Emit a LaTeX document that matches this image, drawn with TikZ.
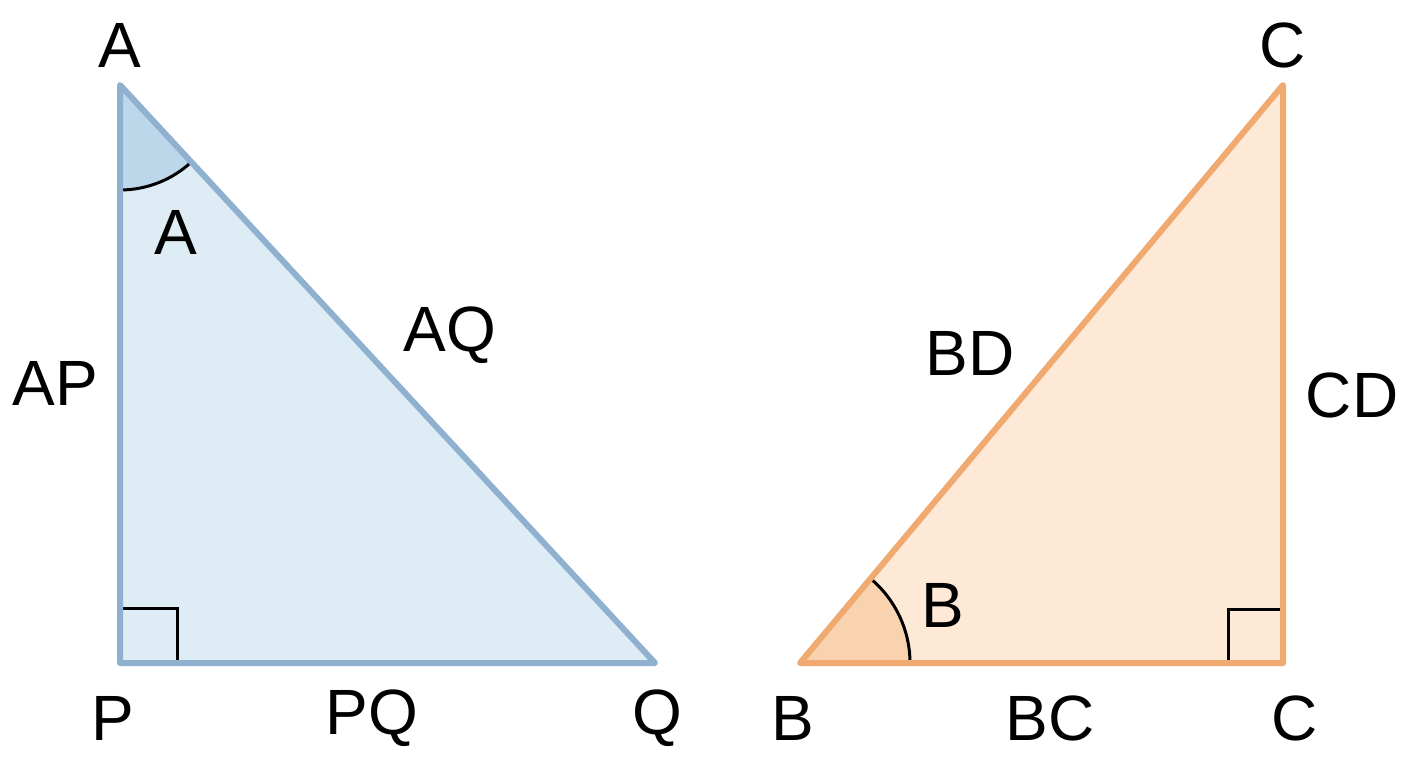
\documentclass[tikz,border=0pt]{standalone}
\usepackage{fontspec}
\setmainfont{Liberation Sans}
\definecolor{bstroke}{HTML}{8FB0CF}
\definecolor{bfill}{HTML}{DEECF6}
\definecolor{bwedge}{HTML}{BDD7EA}
\definecolor{ostroke}{HTML}{F0A96E}
\definecolor{ofill}{HTML}{FDE9D6}
\definecolor{owedge}{HTML}{F9D3AF}
\begin{document}
\begin{tikzpicture}[x=1pt,y=-1pt,
  lbl/.style={font=\fontsize{64}{64}\selectfont, text=black, inner sep=0pt},
  angmark/.style={black, line width=3pt},
  tri/.style={line width=6pt, line join=round, line cap=round}]
\useasboundingbox (0,0) rectangle (1408,768);
\fill[white] (0,0) rectangle (1408,768);
% left triangle
\coordinate (A) at (120,85);
\coordinate (P) at (120,663);
\coordinate (Q) at (655,663);
\fill[bfill] (A) -- (P) -- (Q) -- cycle;
\fill[bwedge] (A) -- ++(0,105) arc[start angle=90, end angle=47.2, radius=105] -- cycle;
\draw[angmark] (A) ++(0,105) arc[start angle=90, end angle=47.2, radius=105];
\draw[angmark] (120,608) -- (177,608) -- (177,663);
\draw[tri, bstroke] (A) -- (P) -- (Q) -- cycle;
% right triangle
\coordinate (B) at (800,663);
\coordinate (C1) at (1283,663);
\coordinate (C2) at (1283,85);
\fill[ofill] (B) -- (C1) -- (C2) -- cycle;
\fill[owedge] (B) -- ++(110,0) arc[start angle=0, end angle=-50.1, radius=110] -- cycle;
\draw[angmark] (B) ++(110,0) arc[start angle=0, end angle=-50.1, radius=110];
\draw[angmark] (1228,663) -- (1228,609) -- (1283,609);
\draw[tri, ostroke] (B) -- (C1) -- (C2) -- cycle;
% labels
\node[lbl] (lA) at (120,45) {A};
\node[lbl] (lAin) at (176,232) {A};
\node[lbl] (lAP) at (55,383) {AP};
\node[lbl] (lAQ) at (450,335) {AQ};
\node[lbl] (lP) at (113,718) {P};
\node[lbl] (lPQ) at (372,718) {PQ};
\node[lbl] (lQ) at (657,718) {Q};
\node[lbl] (lBD) at (970,353) {BD};
\node[lbl] (lCD) at (1352,395) {CD};
\node[lbl] (lBin) at (943,605) {B};
\node[lbl] (lB) at (793,718) {B};
\node[lbl] (lBC) at (1050,718) {BC};
\node[lbl] (lC1) at (1295,718) {C};
\node[lbl] (lC2) at (1283,45) {C};
\end{tikzpicture}
\end{document}
